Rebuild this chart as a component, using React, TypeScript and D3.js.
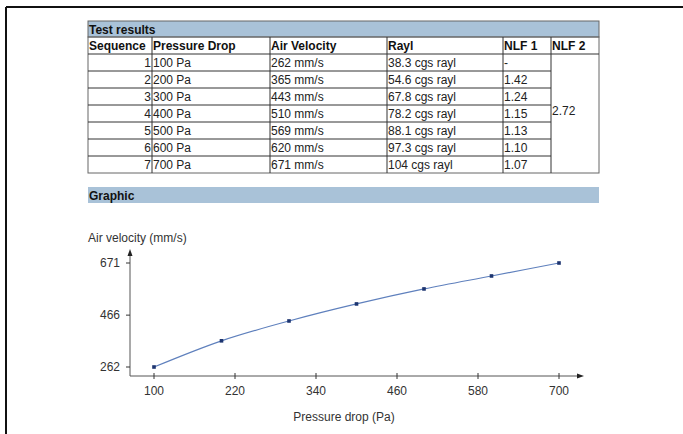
import * as d3 from 'd3';
import React from 'react';

// table data
const sequence = [1, 2, 3, 4, 5, 6, 7];
const pressureDrop = [100, 200, 300, 400, 500, 600, 700];
const airVelocity = [262, 365, 443, 510, 569, 620, 671];
const rayl = ['38.3', '54.6', '67.8', '78.2', '88.1', '97.3', '104'];
const nlf1 = ['-', '1.42', '1.24', '1.15', '1.13', '1.10', '1.07'];
const nlf2 = '2.72';
const headers = ['Sequence', 'Pressure Drop', 'Air Velocity', 'Rayl', 'NLF 1', 'NLF 2'];

// axis ticks
const xTicks = [100, 220, 340, 460, 580, 700];
const yTicks = [262, 466, 671];

const font = 'Liberation Sans, Arial, sans-serif';
const colX = [88, 152, 270, 387, 503, 551, 599];
const titleTop = 21;
const headTop = 37;
const rowTop = 54;
const rowH = 17;

const App: React.FC = () => {
  const x = d3.scaleLinear().domain([100, 700]).range([154, 559]);
  const y = d3.scaleLinear().domain([262, 671]).range([367, 263]);
  const line = d3.line<number>()
    .x((_, i) => x(pressureDrop[i]))
    .y(d => y(d))
    .curve(d3.curveMonotoneX);

  const tableBottom = rowTop + rowH * sequence.length;

  return (
    <svg width={683} height={434} style={{position: 'absolute', left: 0, top: 0, background: '#fff'}}
      fontFamily={font}>
      {/* page frame */}
      <line x1={6} x2={683} y1={7} y2={7} stroke='#111' strokeWidth={2}/>
      <line x1={6} x2={6} y1={7} y2={434} stroke='#111' strokeWidth={2}/>

      {/* table */}
      <rect x={colX[0]} y={titleTop} width={colX[6] - colX[0]} height={headTop - titleTop}
        fill='#a9c2d8' stroke='#666' strokeWidth={1}/>
      <text x={colX[0] + 1} y={titleTop + 13} fontSize={12} fontWeight='bold' fill='#111'>Test results</text>

      {headers.map((h, i) => (
        <text key={h} x={colX[i] + 1} y={headTop + 13} fontSize={12} fontWeight='bold' fill='#111'>{h}</text>
      ))}
      <rect x={colX[0]} y={headTop} width={colX[6] - colX[0]} height={tableBottom - headTop}
        fill='none' stroke='#666' strokeWidth={1}/>
      {/* row separators */}
      {d3.range(sequence.length).map(i => (
        <line key={'r' + i} x1={colX[0]} x2={i === 0 ? colX[6] : colX[5]}
          y1={rowTop + i * rowH} y2={rowTop + i * rowH} stroke='#333' strokeWidth={1}/>
      ))}
      {/* column lines */}
      {colX.slice(1, 6).map((cx, i) => (
        <line key={'c' + i} x1={cx} x2={cx} y1={headTop} y2={tableBottom} stroke='#333' strokeWidth={1}/>
      ))}
      {sequence.map((s, i) => {
        const ty = rowTop + i * rowH + 13;
        return (
          <g key={'row' + s} fontSize={12} fill='#222'>
            <text x={colX[1] - 1} y={ty} textAnchor='end'>{s}</text>
            <text x={colX[1] + 1} y={ty}>{pressureDrop[i]} Pa</text>
            <text x={colX[2] + 1} y={ty}>{airVelocity[i]} mm/s</text>
            <text x={colX[3] + 1} y={ty}>{rayl[i]} cgs rayl</text>
            <text x={colX[4] + 1} y={ty}>{nlf1[i]}</text>
          </g>
        );
      })}
      <text x={colX[5] + 1} y={rowTop + 3 * rowH + 10} fontSize={12} fill='#222'>{nlf2}</text>

      {/* graphic bar */}
      <rect x={88} y={187} width={511} height={16} fill='#a9c2d8'/>
      <text x={89} y={200} fontSize={12} fontWeight='bold' fill='#111'>Graphic</text>

      {/* chart */}
      <text x={88} y={242} fontSize={12} fill='#333'>Air velocity (mm/s)</text>
      <line x1={130} x2={130} y1={252} y2={376} stroke='#555' strokeWidth={1}/>
      <path d='M127.5,256 L130,249 L132.5,256 Z' fill='#222'/>
      <line x1={130} x2={581} y1={376} y2={376} stroke='#555' strokeWidth={1}/>
      <path d='M577,373.5 L584,376 L577,378.5 Z' fill='#222'/>
      {yTicks.map(t => (
        <g key={'y' + t}>
          <line x1={126} x2={130} y1={y(t)} y2={y(t)} stroke='#333'/>
          <text x={120} y={y(t) + 4} fontSize={12} textAnchor='end' fill='#333'>{t}</text>
        </g>
      ))}
      {xTicks.map(t => (
        <g key={'x' + t}>
          <line x1={x(t)} x2={x(t)} y1={373} y2={379} stroke='#333'/>
          <text x={x(t)} y={395} fontSize={12} textAnchor='middle' fill='#333'>{t}</text>
        </g>
      ))}
      <text x={344} y={421} fontSize={12} textAnchor='middle' fill='#333'>Pressure drop (Pa)</text>

      <path d={line(airVelocity) || ''} fill='none' stroke='#5f80bd' strokeWidth={1.2}/>
      {airVelocity.map((v, i) => (
        <rect key={'p' + i} x={x(pressureDrop[i]) - 1.8} y={y(v) - 1.8} width={3.6} height={3.6}
          fill='#1d3570'/>
      ))}
    </svg>
  );
};

export default App;
